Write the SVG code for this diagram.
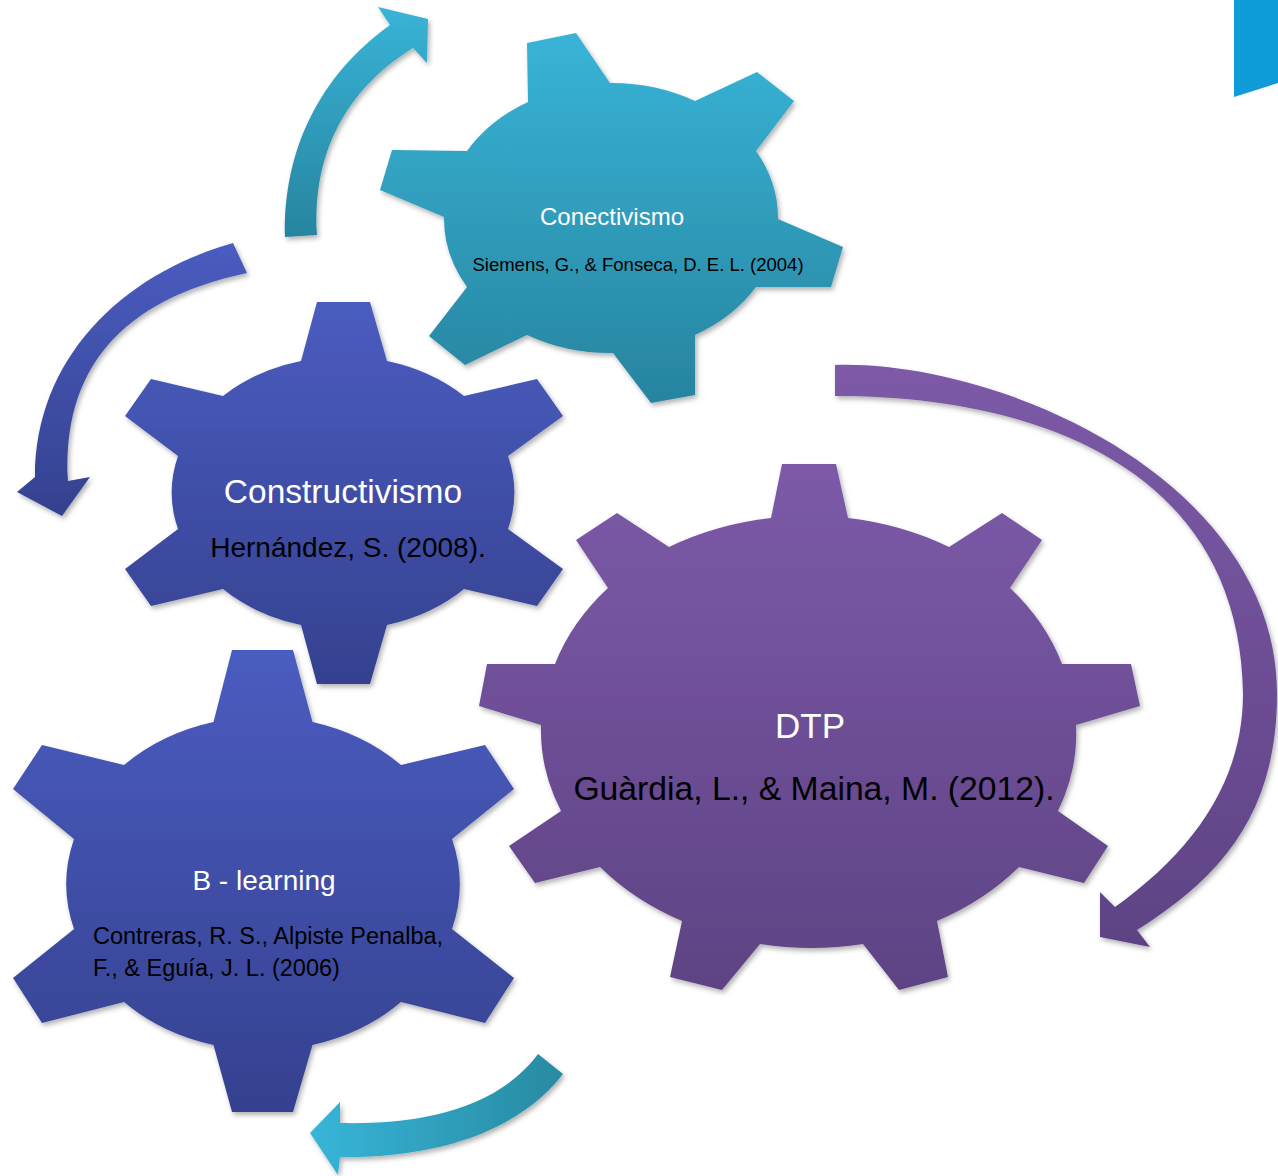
<svg xmlns="http://www.w3.org/2000/svg" width="1278" height="1176" viewBox="0 0 1278 1176">
<defs>
<linearGradient id="gTeal" x1="0" y1="0" x2="0" y2="1"><stop offset="0" stop-color="#38b4d7"/><stop offset="1" stop-color="#27849f"/></linearGradient>
<linearGradient id="gTealH" x1="0" y1="0" x2="1" y2="0"><stop offset="0" stop-color="#37b5d8"/><stop offset="1" stop-color="#288aa2"/></linearGradient>
<linearGradient id="gBlue" x1="0" y1="0" x2="0" y2="1"><stop offset="0" stop-color="#4a5cc0"/><stop offset="1" stop-color="#35418f"/></linearGradient>
<linearGradient id="gPurple" x1="0" y1="0" x2="0" y2="1"><stop offset="0" stop-color="#7c5aa8"/><stop offset="1" stop-color="#5e4384"/></linearGradient>
<filter id="sh" x="-10%" y="-10%" width="120%" height="120%"><feDropShadow dx="2" dy="3" stdDeviation="2.5" flood-color="#000" flood-opacity="0.3"/></filter>
</defs>
<style>
.gear{filter:url(#sh)}
.arrow{filter:url(#sh)}
.t{font-family:"Liberation Sans",Arial,sans-serif;text-anchor:middle}
.w{fill:#ffffff}
.b{fill:#000000}
</style>
<rect width="1278" height="1176" fill="#ffffff"/>
<polygon points="1234,0 1278,0 1278,83 1234,97" fill="#0e9bd8"/>
<g id="connectors">
<path class="arrow" fill="url(#gTeal)" d="M 285,237 C 283,150 320,75 390,25 L 378,7 L 428,19 L 427,63 L 413,48 C 345,90 312,155 317,235 Z"/>
<path class="arrow" fill="url(#gBlue)" d="M 233,243 C 120,275 35,360 35,477 L 17,492 L 62,516 L 90,477 L 68,481 C 62,370 120,300 247,273 Z"/>
<path class="arrow" fill="url(#gPurple)" d="M 835,365 C 1000,360 1277,480 1277,694 C 1277,810 1225,875 1137,930 L 1150,947 L 1100,937 L 1100,892 L 1115,907 C 1195,850 1243,780 1243,694 C 1240,470 1040,396 835,396 Z"/>
<path class="arrow" fill="url(#gTealH)" d="M 538,1054 L 563,1074 C 520,1130 440,1158 340,1157 L 338,1175 L 310,1133 L 340,1102 L 340,1123 C 430,1125 500,1105 538,1054 Z"/>
</g>
<g id="node-conectivismo">
<path class="gear" fill="url(#gTeal)" d="M 528,102 L 527,43 L 576,33 L 610,83 A 167 135 0 0 1 695,101 L 757,72 L 794,101 L 756,151 A 167 135 0 0 1 778,219 L 843,247 L 831,287 L 756,287 A 167 135 0 0 1 695,335 L 695,395 L 651,403 L 613,353 A 167 135 0 0 1 527,335 L 465,365 L 429,336 L 467,287 A 167 135 0 0 1 444,217 L 380,190 L 392,150 L 467,151 A 167 135 0 0 1 528,102 Z"/>
<text class="t w" x="612" y="225" font-size="24">Conectivismo</text>
<text class="t b" x="638" y="271" font-size="18.5">Siemens, G., &amp; Fonseca, D. E. L. (2004)</text>
</g>
<g id="node-constructivismo">
<path class="gear" fill="url(#gBlue)" d="M 301,361 L 317,302 L 370,302 L 387,361 A 171 136 0 0 1 464,396 L 537,379 L 563,416 L 508,456 A 171 136 0 0 1 508,529 L 563,569 L 537,606 L 464,589 A 171 136 0 0 1 387,625 L 370,684 L 317,684 L 301,625 A 171 136 0 0 1 223,589 L 151,606 L 125,569 L 178,529 A 171 136 0 0 1 178,456 L 125,416 L 151,379 L 223,396 A 171 136 0 0 1 301,361 Z"/>
<text class="t w" x="343" y="503" font-size="33.5">Constructivismo</text>
<text class="t b" x="348" y="557" font-size="28">Hernández, S. (2008).</text>
</g>
<g id="node-dtp">
<path class="gear" fill="url(#gPurple)" d="M 771,518 L 782,464 L 836,464 L 848,518 A 268 213 0 0 1 949,547 L 1002,513 L 1042,540 L 1010,588 A 268 213 0 0 1 1062,664 L 1131,664 L 1140,706 L 1076,725 A 268 213 0 0 1 1058,811 L 1108,846 L 1084,883 L 1019,867 A 268 213 0 0 1 937,921 L 948,977 L 899,990 L 863,944 A 268 213 0 0 1 760,944 L 722,990 L 670,977 L 682,921 A 268 213 0 0 1 600,867 L 535,883 L 509,846 L 561,811 A 268 213 0 0 1 541,725 L 479,706 L 487,664 L 555,664 A 268 213 0 0 1 608,588 L 576,540 L 617,513 L 669,547 A 268 213 0 0 1 771,518 Z"/>
<text class="t w" x="810" y="738" font-size="35">DTP</text>
<text class="t b" x="814" y="800" font-size="33.7">Guàrdia, L., &amp; Maina, M. (2012).</text>
</g>
<g id="node-blearning">
<path class="gear" fill="url(#gBlue)" d="M 213.5,722 L 232,650 L 293,650 L 312.5,722 A 195 162 0 0 1 401,765 L 485,745 L 514,789 L 452,839 A 195 162 0 0 1 452,929 L 514,978 L 485,1023 L 401,1002 A 195 162 0 0 1 312.5,1045 L 293,1112 L 232,1112 L 213.5,1045 A 195 162 0 0 1 124,1002 L 42,1023 L 13,978 L 74,929 A 195 162 0 0 1 74,839 L 13,789 L 42,745 L 124,765 A 195 162 0 0 1 213.5,722 Z"/>
<text class="t w" x="264" y="890" font-size="28">B - learning</text>
<text class="b" font-family="Liberation Sans, Arial, sans-serif" font-size="23.5" x="93" y="944">Contreras, R. S., Alpiste Penalba,</text>
<text class="b" font-family="Liberation Sans, Arial, sans-serif" font-size="23.5" x="93" y="976">F., &amp; Eguía, J. L. (2006)</text>
</g>
</svg>
